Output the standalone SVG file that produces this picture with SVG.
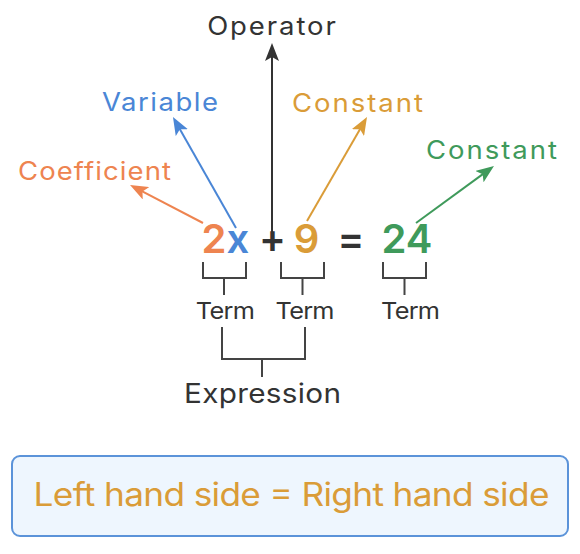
<svg xmlns="http://www.w3.org/2000/svg" width="580" height="554" viewBox="0 0 580 554">
<style>
text{font-family:Inter,"Noto Sans","Liberation Sans",sans-serif;}
.lbl{font-size:25px;text-anchor:middle;}
.eq{font-size:40px;font-weight:600;text-anchor:middle;}
.term{font-size:23px;fill:#333;text-anchor:middle;}
.br{fill:none;stroke:#444;stroke-width:2;}
.ar{stroke-width:2;fill:none;}
</style>
<defs>
<marker id="mk" viewBox="0 0 18 14" refX="8" refY="7" markerWidth="18" markerHeight="14" markerUnits="userSpaceOnUse" orient="auto"><path d="M0,0 L18,7 L0,14 L4,7 Z" fill="#333"/></marker>
<marker id="mb" viewBox="0 0 18 14" refX="8" refY="7" markerWidth="18" markerHeight="14" markerUnits="userSpaceOnUse" orient="auto"><path d="M0,0 L18,7 L0,14 L4,7 Z" fill="#4A86D6"/></marker>
<marker id="mo" viewBox="0 0 18 14" refX="8" refY="7" markerWidth="18" markerHeight="14" markerUnits="userSpaceOnUse" orient="auto"><path d="M0,0 L18,7 L0,14 L4,7 Z" fill="#EE8450"/></marker>
<marker id="my" viewBox="0 0 18 14" refX="8" refY="7" markerWidth="18" markerHeight="14" markerUnits="userSpaceOnUse" orient="auto"><path d="M0,0 L18,7 L0,14 L4,7 Z" fill="#DA9C38"/></marker>
<marker id="mg" viewBox="0 0 18 14" refX="8" refY="7" markerWidth="18" markerHeight="14" markerUnits="userSpaceOnUse" orient="auto"><path d="M0,0 L18,7 L0,14 L4,7 Z" fill="#3F9A5B"/></marker>
</defs>
<g id="connectors">
<line class="ar" x1="272" y1="236" x2="272" y2="53" stroke="#333" marker-end="url(#mk)"/>
<line class="ar" x1="236" y1="228" x2="177.9" y2="125.7" stroke="#4A86D6" marker-end="url(#mb)"/>
<line class="ar" x1="203" y1="223" x2="138.9" y2="189.6" stroke="#EE8450" marker-end="url(#mo)"/>
<line class="ar" x1="307" y1="221" x2="362" y2="125.7" stroke="#DA9C38" marker-end="url(#my)"/>
<line class="ar" x1="416" y1="223" x2="485.9" y2="171.9" stroke="#3F9A5B" marker-end="url(#mg)"/>
<path class="br" d="M203,262 V278 H246 V262 M224,278 V295"/>
<path class="br" d="M281,262 V278 H324 V262 M302.5,278 V295"/>
<path class="br" d="M383,262 V278 H426 V262 M404.5,278 V295"/>
<path class="br" d="M222,327 V359 H305 V327 M262,359 V377"/>
</g>
<g id="operator"><text class="lbl" transform="translate(271.5,35) scale(1.1,1)" fill="#333" textLength="117" lengthAdjust="spacing">Operator</text></g>
<g id="variable"><text class="lbl" transform="translate(160,111) scale(1.1,1)" fill="#4A86D6" textLength="105.5" lengthAdjust="spacing">Variable</text></g>
<g id="coefficient"><text class="lbl" transform="translate(94.5,180) scale(1.1,1)" fill="#EE8450" textLength="139" lengthAdjust="spacing">Coefficient</text></g>
<g id="constant1"><text class="lbl" transform="translate(357.5,111.5) scale(1.1,1)" fill="#DA9C38" textLength="119" lengthAdjust="spacing">Constant</text></g>
<g id="constant2"><text class="lbl" transform="translate(491.5,159) scale(1.1,1)" fill="#3F9A5B" textLength="119" lengthAdjust="spacing">Constant</text></g>
<g id="equation">
<text class="eq" x="214" y="253" fill="#EE8450">2</text>
<text class="eq" x="238" y="253" fill="#4A86D6">x</text>
<text class="eq" x="272.5" y="253" fill="#333">+</text>
<text class="eq" x="306.5" y="253" fill="#DA9C38">9</text>
<text class="eq" x="351" y="253" fill="#333">=</text>
<text class="eq" x="407" y="253" fill="#3F9A5B">24</text>
</g>
<g id="term1"><text class="term" transform="translate(225.3,319) scale(1.1,1)" textLength="53.6" lengthAdjust="spacing">Term</text></g>
<g id="term2"><text class="term" transform="translate(305,319) scale(1.1,1)" textLength="53.6" lengthAdjust="spacing">Term</text></g>
<g id="term3"><text class="term" transform="translate(410.5,319) scale(1.1,1)" textLength="53.6" lengthAdjust="spacing">Term</text></g>
<g id="expression"><text transform="translate(262.5,403) scale(1.1,1)" text-anchor="middle" font-size="27" fill="#333" textLength="142.7" lengthAdjust="spacing">Expression</text></g>
<g id="equation-box">
<rect x="12" y="456" width="556" height="80" rx="8" fill="#EEF6FE" stroke="#5B93D9" stroke-width="2"/>
<text transform="translate(291.5,506) scale(1.1,1)" text-anchor="middle" font-size="32" fill="#DA9C38" textLength="469" lengthAdjust="spacing">Left hand side = Right hand side</text>
</g>
</svg>
